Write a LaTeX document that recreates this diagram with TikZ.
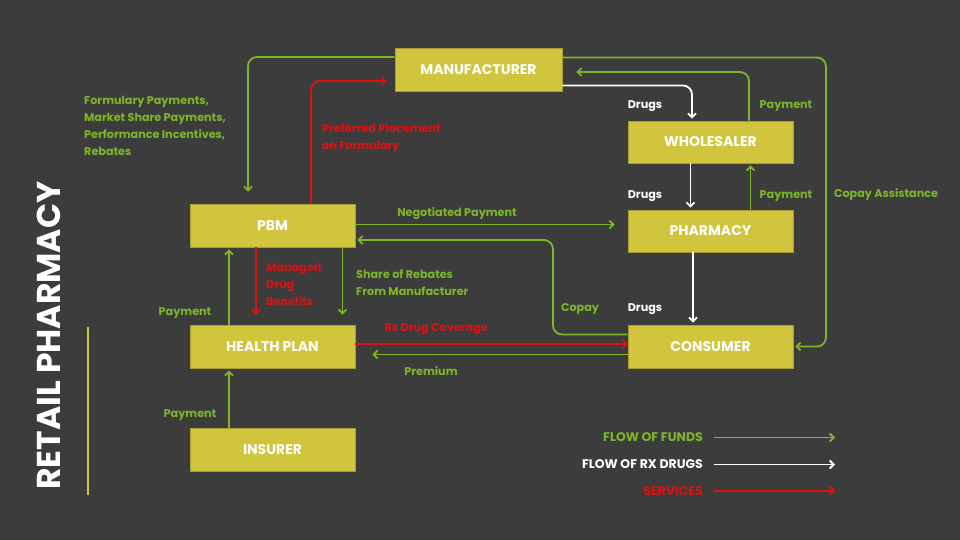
\documentclass[tikz,border=0pt]{standalone}
\usepackage{fontspec}
\setmainfont{Poppins}
\usetikzlibrary{arrows.meta}
\definecolor{bg}{HTML}{3C3C3C}
\definecolor{boxc}{HTML}{D0C53C}
\definecolor{fund}{HTML}{7DB62A}
\definecolor{serv}{HTML}{DD1111}
\begin{document}
\begin{tikzpicture}[x=1pt,y=-1pt,
  box/.style={fill=boxc, draw=boxc!80!black, line width=0.6pt, minimum width=165pt, minimum height=42pt, inner sep=0pt, text=white, font=\bfseries\fontsize{14}{16}\selectfont},
  tip/.style={-{Straight Barb[length=4pt,width=8pt,line width=1.8pt]}},
  funds/.style={draw=fund, line width=1.8pt, rounded corners=9pt, tip},
  drugs/.style={draw=white, line width=1.8pt, rounded corners=9pt, tip},
  serv/.style={draw=serv, line width=1.8pt, rounded corners=9pt, tip},
  lbl/.style={font=\bfseries\fontsize{11.2}{17}\selectfont, inner sep=0pt, align=left, yshift=-1.5pt},
  glbl/.style={lbl, text=fund},
  wlbl/.style={lbl, text=white},
  rlbl/.style={lbl, text=serv},
  leg/.style={font=\bfseries\fontsize{12.5}{14}\selectfont, inner sep=0pt, anchor=east}
]
\fill[bg] (0,0) rectangle (960,540);
\useasboundingbox (0,0) rectangle (960,540);

% title
\node[rotate=90, text=white, font=\bfseries\fontsize{33}{36}\selectfont, inner sep=0pt] (title) at (49,335.5) {RETAIL PHARMACY};
\draw[boxc, line width=2.5pt] (88,327) -- (88,495);

% boxes
\node[box, minimum width=167pt, minimum height=43pt] (man) at (478.5,69.5) {MANUFACTURER};
\node[box] (whl) at (710.5,142) {WHOLESALER};
\node[box] (pha) at (710.5,231) {PHARMACY};
\node[box, minimum height=43pt] (pbm) at (272.5,225.5) {PBM};
\node[box, minimum height=43pt] (hp) at (272.5,346.5) {HEALTH PLAN};
\node[box, minimum height=43pt] (con) at (710.5,346.5) {CONSUMER};
\node[box, minimum height=43pt] (ins) at (272.5,449.5) {INSURER};

\coordinate (ca) at (826,346.5);
\coordinate (cp) at (553,240);

% connectors
\draw[funds] ([yshift=12.5pt]man.west) -| ([xshift=-24.5pt,yshift=12pt]pbm.north);
\draw[serv] ([xshift=38.5pt]pbm.north) |- ([xshift=-8pt,yshift=-11.5pt]man.west);
\draw[drugs] ([yshift=-16pt]man.east) -| ([xshift=-18.5pt,yshift=2pt]whl.north);
\draw[funds] ([xshift=38.5pt]whl.north) |- ([xshift=14pt,yshift=-2.5pt]man.east);
\draw[funds] ([yshift=12pt]man.east) -| (ca) -- ([xshift=2pt]con.east);
\draw[drugs] ([xshift=-20pt]whl.south) -- ([xshift=-20pt,yshift=2pt]pha.north);
\draw[funds] ([xshift=40pt]pha.north) -- ([xshift=40pt,yshift=-2pt]whl.south);
\draw[drugs] ([xshift=-17.5pt]pha.south) -- ([xshift=-17.5pt,yshift=2pt]con.north);
\draw[funds] ([yshift=1pt]pbm.east) -- ([xshift=-13pt,yshift=6.5pt]pha.west);
\draw[funds] ([yshift=12pt]con.west) -| (cp) -- ([xshift=2pt,yshift=-14.5pt]pbm.east);
\draw[funds] ([xshift=70pt]pbm.south) -- ([xshift=70pt,yshift=10pt]hp.north);
\draw[serv] ([xshift=-16.5pt]pbm.south) -- ([xshift=-16.5pt,yshift=10pt]hp.north);
\draw[funds] ([xshift=-43.5pt]hp.north) -- ([xshift=-43.5pt,yshift=-2pt]pbm.south);
\draw[serv] ([yshift=2.5pt]hp.east) -- ([yshift=2.5pt]con.west);
\draw[funds] ([yshift=-8pt]con.west) -- ([xshift=17pt,yshift=-8pt]hp.east);
\draw[funds] ([xshift=-43.5pt]ins.north) -- ([xshift=-43.5pt,yshift=-2pt]hp.south);

% labels
\node[glbl, anchor=west] (l1) at (84,124.5) {Formulary Payments,\\Market Share Payments,\\Performance Incentives,\\Rebates};
\node[rlbl, anchor=west] (l2) at (322,136.5) {Preferred Placement\\on Formulary};
\node[wlbl] (l3) at (645,105) {Drugs};
\node[glbl] (l4) at (786,105) {Payment};
\node[wlbl] (l5) at (645,195) {Drugs};
\node[glbl] (l6) at (786,195) {Payment};
\node[glbl] (l7) at (886,193) {Copay Assistance};
\node[glbl] (l8) at (457,212) {Negotiated Payment};
\node[rlbl, anchor=west] (l9) at (266,283) {Managed\\Drug\\Benefits};
\node[glbl, anchor=west] (l10) at (356,281) {Share of Rebates\\From Manufacturer};
\node[glbl] (l11) at (580,308) {Copay};
\node[wlbl] (l12) at (645,308) {Drugs};
\node[glbl] (l13) at (185,312) {Payment};
\node[rlbl] (l14) at (436,328) {Rx Drug Coverage};
\node[glbl] (l15) at (431,370) {Premium};
\node[glbl] (l16) at (190,414) {Payment};

% legend
\node[leg, text=fund] (lg1) at (703,437.5) {FLOW OF FUNDS};
\node[leg, text=white] (lg2) at (703,464.5) {FLOW OF RX DRUGS};
\node[leg, text=serv] (lg3) at (703,491) {SERVICES};
\coordinate (lg1e) at (835,437.5);
\coordinate (lg2e) at (835,464.5);
\coordinate (lg3e) at (835,491);
\draw[funds] ([xshift=11pt]lg1.east) -- (lg1e);
\draw[drugs] ([xshift=11pt]lg2.east) -- (lg2e);
\draw[serv] ([xshift=11pt]lg3.east) -- (lg3e);
\end{tikzpicture}
\end{document}
